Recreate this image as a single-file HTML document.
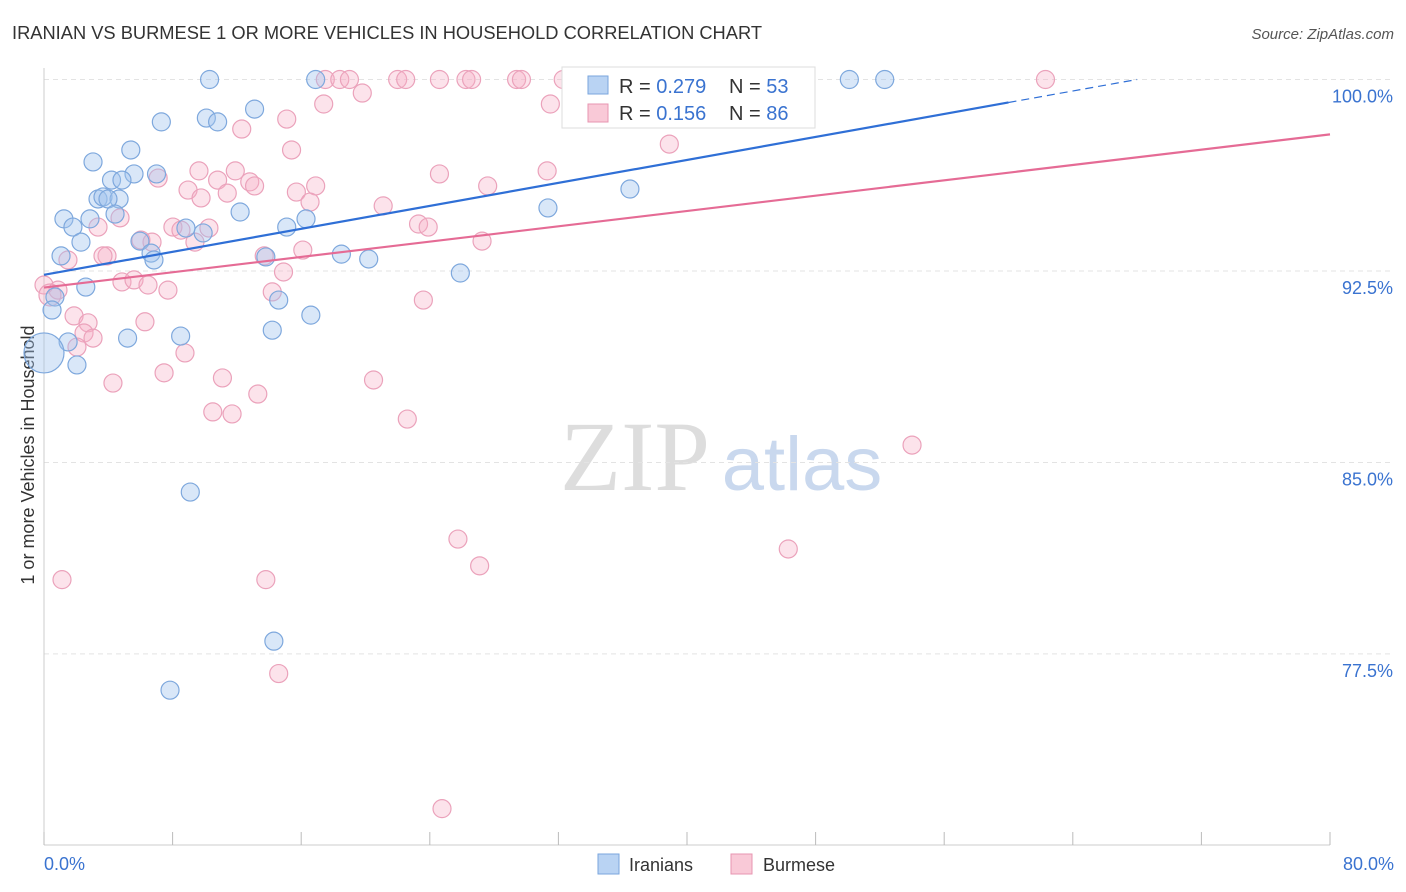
<!DOCTYPE html>
<html><head><meta charset="utf-8">
<style>
body{margin:0;background:#fff;font-family:"Liberation Sans",sans-serif;}
#wrap{position:relative;width:1406px;height:892px;overflow:hidden;}
</style></head>
<body>
<div id="wrap">
<svg id="chart" width="1406" height="892" xmlns="http://www.w3.org/2000/svg">
<text x="12" y="39" font-size="18.2" fill="#333" textLength="750" lengthAdjust="spacingAndGlyphs">IRANIAN VS BURMESE 1 OR MORE VEHICLES IN HOUSEHOLD CORRELATION CHART</text>
<text x="1394" y="39" font-size="15" fill="#555" font-style="italic" text-anchor="end">Source: ZipAtlas.com</text>
<text x="34" y="455" font-size="18" fill="#333" text-anchor="middle" transform="rotate(-90 34 455)">1 or more Vehicles in Household</text>
<g>
<text x="635" y="490" font-size="100" fill="#ddd" font-family="Liberation Serif" text-anchor="middle">ZIP</text>
<text x="802" y="490" font-size="76" fill="#c9d8ee" text-anchor="middle">atlas</text>
</g>
<g id="grid"></g>
<g id="axes"></g>
<g id="pts"></g>
<g id="lines"></g>
<g>
<rect x="562" y="67" width="253" height="61" fill="#fff" stroke="#ddd"/>
<rect x="588" y="76" width="20" height="18" fill="#b9d3f3" stroke="#7aa6de"/>
<rect x="588" y="104" width="20" height="18" fill="#f9c9d7" stroke="#e795b0"/>
<text x="619" y="93" font-size="20" fill="#333">R = <tspan fill="#3a73d0">0.279</tspan></text>
<text x="729" y="93" font-size="20" fill="#333">N = <tspan fill="#3a73d0">53</tspan></text>
<text x="619" y="120" font-size="20" fill="#333">R = <tspan fill="#3a73d0">0.156</tspan></text>
<text x="729" y="120" font-size="20" fill="#333">N = <tspan fill="#3a73d0">86</tspan></text>
</g>
<g>
<rect x="598" y="854" width="21" height="20" fill="#b9d3f3" stroke="#7aa6de"/>
<text x="629" y="871" font-size="18" fill="#333">Iranians</text>
<rect x="731" y="854" width="21" height="20" fill="#f9c9d7" stroke="#e795b0"/>
<text x="763" y="871" font-size="18" fill="#333">Burmese</text>
</g>
</svg>
</div>
<script>
const xTicks=[0,10,20,30,40,50,60,70,80];
const yTicks=[77.5,85,92.5,100];
const blueX=[16.9,10.3,50.1,52.3,13.1,10.1,10.8,7.3,3.05,5.4,7.0,5.6,4.2,4.85,3.36,3.67,4.67,3.98,1.24,2.86,4.42,1.8,12.2,8.83,9.9,15.1,16.3,5.97,2.3,1.06,6.66,6.84,13.8,18.5,20.2,25.9,31.35,36.45,2.6,0.68,0.5,14.6,16.6,14.2,8.5,5.2,1.5,0,2.05,9.1,14.3,7.84];
const blueY=[100,100,100,100,98.84,98.49,98.34,98.34,96.77,97.24,96.3,96.3,96.06,96.06,95.32,95.4,95.32,95.32,94.54,94.54,94.73,94.22,94.81,94.18,93.99,94.22,94.54,93.67,93.63,93.09,93.2,92.93,93.05,93.16,92.97,92.42,94.97,95.71,91.87,91.48,90.97,91.36,90.77,90.18,89.95,89.87,89.72,89.29,88.82,83.84,78.0,76.08];
const pinkX=[17.5,18.4,19.0,22.0,22.5,24.6,26.25,26.6,29.4,29.7,32.3,62.3,19.8,17.4,31.5,15.1,12.3,15.4,38.9,9.64,11.9,31.3,7.1,10.8,12.8,13.1,16.9,24.6,27.6,8.96,11.4,15.7,9.77,16.55,21.1,4.73,3.36,8.02,10.26,8.52,23.3,23.9,6.03,6.72,9.39,16.1,27.25,3.92,3.67,13.7,1.49,14.9,4.85,5.6,6.47,7.71,0,0.87,0.37,14.2,1.87,2.74,6.28,23.6,2.49,3.05,2.05,8.77,7.47,11.1,20.5,4.29,13.3,10.5,11.7,22.6,54.0,25.75,27.1,46.3,1.12,13.8,14.6,24.76];
const pinkY=[100,100,100,100,100,100,100,100,100,100,100,100,99.47,99.04,99.04,98.45,98.06,97.24,97.47,96.42,96.42,96.42,96.14,96.06,95.99,95.83,95.83,96.3,95.83,95.67,95.55,95.59,95.36,95.2,95.05,94.58,94.22,94.22,94.18,94.1,94.34,94.22,93.71,93.63,93.63,93.32,93.67,93.09,93.09,93.09,92.93,92.46,92.07,92.15,91.95,91.75,91.95,91.75,91.56,91.68,90.74,90.47,90.51,91.36,90.07,89.87,89.52,89.29,88.51,88.31,88.23,88.11,87.68,86.98,86.9,86.7,85.68,82.0,80.95,81.61,80.41,80.41,76.73,71.44];
const blueTrend=[92.35,99.1]; // at x=0 and x=60
const pinkTrend=[91.85,97.85]; // at x=0 and x=80
const NS="http://www.w3.org/2000/svg";
const X=v=>44+v*16.075;
const Y=v=>79.5+(100-v)*25.53;
function mk(tag,attrs,parent){const e=document.createElementNS(NS,tag);for(const k in attrs)e.setAttribute(k,attrs[k]);parent.appendChild(e);return e;}
const grid=document.getElementById('grid'),axes=document.getElementById('axes'),pts=document.getElementById('pts'),lines=document.getElementById('lines');
yTicks.forEach(t=>{
 const l=mk('line',{x1:44,x2:1394,y1:Y(t),y2:Y(t),stroke:'#e3e3e3','stroke-dasharray':'5,4'},grid);
 
 
 const tx=mk('text',{x:1393,y:Y(t)+23,'font-size':18,fill:'#3a73d0','text-anchor':'end'},axes);
 tx.textContent=t.toFixed(1)+'%';
 
 
});
const xa=mk('line',{x1:44,x2:1330,y1:845,y2:845,stroke:'#ccc'},axes);


const ya=mk('line',{x1:44,x2:44,y1:68,y2:845,stroke:'#ccc'},axes);


for(let i=0;i<=10;i++){const tk=mk('line',{x1:X(i*8),x2:X(i*8),y1:832,y2:845,stroke:'#bbb'},axes);
 
 }
[[0,'start',44],[80,'end',1394]].forEach(([v,a,px])=>{const t=mk('text',{x:px,y:870,'font-size':18,fill:'#3a73d0','text-anchor':a},axes);t.textContent=v.toFixed(1)+'%';
 
 });
pinkX.forEach((x,i)=>{const c=mk('circle',{cx:X(x),cy:Y(pinkY[i]),r:(x===0.37?11:9),fill:'rgba(246,176,198,0.35)',stroke:'#eba2bb','stroke-width':1.2},pts);
 
 });
blueX.forEach((x,i)=>{const c=mk('circle',{cx:X(x),cy:Y(blueY[i]),r:(x===0?20:9),fill:'rgba(160,195,238,0.4)',stroke:'#7ea8dd','stroke-width':1.2},pts);
 
 });
const slope=(blueTrend[1]-blueTrend[0])/60;
const bl=mk('line',{x1:X(0),y1:Y(blueTrend[0]),x2:X(60),y2:Y(blueTrend[1]),stroke:'#2f6fd6','stroke-width':2.2},lines);


const xe=(100-blueTrend[0])/slope;
const bd=mk('line',{x1:X(60),y1:Y(blueTrend[1]),x2:X(xe),y2:Y(100),stroke:'#2f6fd6','stroke-width':1.2,'stroke-dasharray':'8,5'},lines);


const pl=mk('line',{x1:X(0),y1:Y(pinkTrend[0]),x2:X(80),y2:Y(pinkTrend[1]),stroke:'#e56b95','stroke-width':2.2},lines);


</script>
</body></html>
